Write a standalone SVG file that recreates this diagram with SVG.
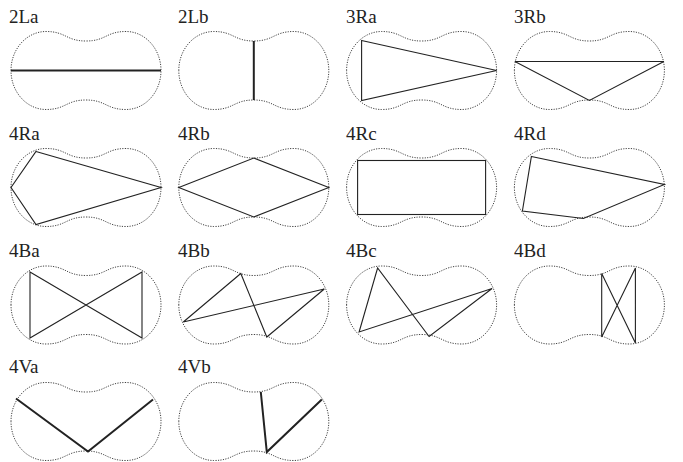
<svg xmlns="http://www.w3.org/2000/svg" xmlns:xlink="http://www.w3.org/1999/xlink" width="683" height="462" viewBox="0 0 683 462">
<style>
.bg{fill:#fff}
.pn{fill:none;stroke:#444;stroke-width:1;stroke-dasharray:1.2 1.3}
.ln{fill:none;stroke:#222;stroke-width:1.1;stroke-linejoin:miter}
.th{fill:none;stroke:#222;stroke-width:2}
.lb{font-family:"Liberation Serif","Times New Roman",serif;font-size:19px;fill:#222}
</style>
<defs>
<path id="peanut" d="M -75 0 C -75 -21.5 -59.3 -39 -40 -39 C -20 -39 -20 -29.5 0 -29.5 C 20 -29.5 20 -39 40 -39 C 59.3 -39 75 -21.5 75 0 C 75 21.5 59.3 39 40 39 C 20 39 20 29.5 0 29.5 C -20 29.5 -20 39 -40 39 C -59.3 39 -75 21.5 -75 0 Z"/>
</defs>
<rect class="bg" x="0" y="0" width="683" height="462"/>

<g id="n2La">
<text class="lb" x="9" y="23">2La</text>
<g transform="translate(86,70.5)"><use xlink:href="#peanut" class="pn"/><line class="th" x1="-75" y1="0" x2="75" y2="0"/></g>
</g>
<g id="n2Lb">
<text class="lb" x="178" y="23">2Lb</text>
<g transform="translate(253.8,70.5)"><use xlink:href="#peanut" class="pn"/><line class="th" x1="0" y1="-29.5" x2="0" y2="29.5"/></g>
</g>
<g id="n3Ra">
<text class="lb" x="346" y="23">3Ra</text>
<g transform="translate(421.6,70.5)"><use xlink:href="#peanut" class="pn"/><polygon class="ln" points="-60,-30 75,0 -60,30"/></g>
</g>
<g id="n3Rb">
<text class="lb" x="514" y="23">3Rb</text>
<g transform="translate(589.4,70.5)"><use xlink:href="#peanut" class="pn"/><polygon class="ln" points="-74.5,-9 74.5,-9 0,30"/></g>
</g>

<g id="n4Ra">
<text class="lb" x="9" y="140">4Ra</text>
<g transform="translate(86,187.5)"><use xlink:href="#peanut" class="pn"/><polygon class="ln" points="-50,-36 75,0 -50,37 -75,0"/></g>
</g>
<g id="n4Rb">
<text class="lb" x="178" y="140">4Rb</text>
<g transform="translate(253.8,187.5)"><use xlink:href="#peanut" class="pn"/><polygon class="ln" points="-75,0 0,-29.5 75,0 0,29.5"/></g>
</g>
<g id="n4Rc">
<text class="lb" x="346" y="140">4Rc</text>
<g transform="translate(421.6,187.5)"><use xlink:href="#peanut" class="pn"/><rect class="ln" x="-64" y="-27" width="128" height="54"/></g>
</g>
<g id="n4Rd">
<text class="lb" x="514" y="140">4Rd</text>
<g transform="translate(589.4,187.5)"><use xlink:href="#peanut" class="pn"/><polygon class="ln" points="-58,-31 75,-3 -6,31 -67,23.5"/></g>
</g>

<g id="n4Ba">
<text class="lb" x="9" y="256.5">4Ba</text>
<g transform="translate(86,305)"><use xlink:href="#peanut" class="pn"/><polygon class="ln" points="-56,-33 56,33 56,-33 -56,33"/></g>
</g>
<g id="n4Bb">
<text class="lb" x="178" y="256.5">4Bb</text>
<g transform="translate(253.8,305)"><use xlink:href="#peanut" class="pn"/><polygon class="ln" points="-70.5,17 -13,-31.5 13,32 70.5,-16"/></g>
</g>
<g id="n4Bc">
<text class="lb" x="346" y="256.5">4Bc</text>
<g transform="translate(421.6,305)"><use xlink:href="#peanut" class="pn"/><polygon class="ln" points="-62.5,27 -44,-37 7.5,31.5 70.5,-16.5"/></g>
</g>
<g id="n4Bd">
<text class="lb" x="514" y="256.5">4Bd</text>
<g transform="translate(589.4,305)"><use xlink:href="#peanut" class="pn"/><polygon class="ln" points="12.3,-31.5 46,38 46,-37 12.3,32"/></g>
</g>

<g id="n4Va">
<text class="lb" x="9" y="373">4Va</text>
<g transform="translate(86,421.5)"><use xlink:href="#peanut" class="pn"/><polyline class="th" points="-70,-23 2,30 67,-22"/></g>
</g>
<g id="n4Vb">
<text class="lb" x="178" y="373">4Vb</text>
<g transform="translate(253.8,421.5)"><use xlink:href="#peanut" class="pn"/><polyline class="th" points="7,-29.5 13,30.5 68,-22"/></g>
</g>
</svg>
